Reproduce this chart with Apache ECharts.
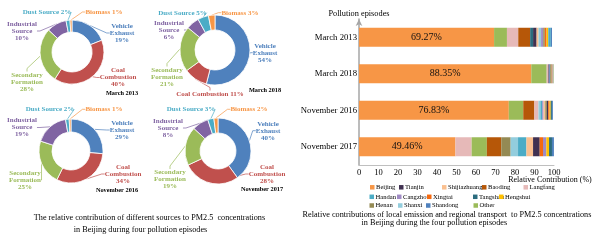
<!DOCTYPE html>
<html><head><meta charset="utf-8">
<script src="https://cdn.jsdelivr.net/npm/echarts@6/dist/echarts.min.js"></script>
<style>html,body{margin:0;padding:0;background:#fff}#c{width:600px;height:241px}</style>
</head><body><div id="c"></div>
<script>
// ---------- Data: source apportionment (donuts) ----------
const sources = ['Vehicle Exhaust', 'Coal Combustion', 'Secondary Formation', 'Industrial Source', 'Dust Source', 'Biomass'];
const donutEpisodes = ['March 2013', 'March 2018', 'November 2016', 'November 2017'];
const mar2013Sources = [19, 40, 28, 10, 2, 1];
const mar2018Sources = [54, 11, 21, 6, 5, 3];
const nov2016Sources = [29, 34, 25, 19, 2, 1];
const nov2017Sources = [40, 28, 19, 8, 3, 2];

// ---------- Data: regional contributions (stacked bars) ----------
const episodes = ['March 2013', 'March 2018', 'November 2016', 'November 2017'];
const regions = ['Beijing', 'Tianjin', 'Shijiazhuang', 'Baoding', 'Langfang', 'Handan', 'Cangzhou', 'Xingtai', 'Tangshan', 'Hengshui', 'Henan', 'Shanxi', 'Shandong', 'Other'];
//                  Bj     Tj   Sjz  Bd   Lf   Hd   Cz   Xt   Ts   Hs   Hn   Sx   Sd   Other
const mar2013Regions = [69.27, 1.8, 1.0, 6.1, 5.8, 1.3, 1.1, 0.9, 1.5, 0.9, 0.8, 1.3, 0.6, 6.6];
const mar2018Regions = [88.35, 0.5, 0.15, 0.15, 0.9, 0.15, 0.15, 0.15, 0.15, 0.15, 0.7, 0.15, 0.4, 7.9];
const nov2016Regions = [76.83, 0.7, 0.9, 5.7, 2.1, 0.9, 0.7, 0.7, 0.6, 0.6, 0.8, 1.0, 0.5, 7.4];
const nov2017Regions = [49.46, 3.4, 3.4, 7.4, 8.3, 4.3, 1.7, 1.7, 1.5, 1.4, 4.8, 3.8, 1.0, 7.8];
// stacking order of each bar (as drawn in the figure)
const mar2013Order = ['Beijing', 'Other', 'Langfang', 'Baoding', 'Tangshan', 'Tianjin', 'Shijiazhuang', 'Shanxi', 'Cangzhou', 'Henan', 'Xingtai', 'Hengshui', 'Handan', 'Shandong'];
const mar2018Order = ['Beijing', 'Other', 'Langfang', 'Tianjin', 'Shandong', 'Henan', 'Baoding', 'Shijiazhuang', 'Handan', 'Cangzhou', 'Xingtai', 'Tangshan', 'Hengshui', 'Shanxi'];
const nov2016Order = ['Beijing', 'Other', 'Baoding', 'Langfang', 'Shanxi', 'Handan', 'Cangzhou', 'Shijiazhuang', 'Henan', 'Tianjin', 'Xingtai', 'Hengshui', 'Tangshan', 'Shandong'];
const nov2017Order = ['Beijing', 'Langfang', 'Other', 'Baoding', 'Henan', 'Shanxi', 'Handan', 'Shijiazhuang', 'Tianjin', 'Xingtai', 'Cangzhou', 'Hengshui', 'Tangshan', 'Shandong'];
const xTicks = [0, 10, 20, 30, 40, 50, 60, 70, 80, 90, 100];

// ---------- Styles / layout ----------
const FONT = 'Liberation Serif';
const sourceColors = ['#4F81BD', '#C0504D', '#9BBB59', '#8064A2', '#4BACC6', '#F79646'];
const regionColors = {
  Beijing: '#F79646', Tianjin: '#403151', Shijiazhuang: '#FAC090', Baoding: '#B65708', Langfang: '#E6B9B8',
  Handan: '#4BACC6', Cangzhou: '#A08BC4', Xingtai: '#F5690F', Tangshan: '#2B6C7E', Hengshui: '#FFC000',
  Henan: '#948A54', Shanxi: '#93CDDD', Shandong: '#4F81BD', Other: '#9BBB59'
};
const donutValues = [mar2013Sources, mar2018Sources, nov2016Sources, nov2017Sources];
const donutGeom = [
  { center: [72, 52], radius: [20, 32], title: [122, 93] },
  { center: [215, 50], radius: [20, 35], title: [265, 90] },
  { center: [71, 151], radius: [19, 32], title: [117, 190] },
  { center: [218, 151], radius: [18, 33], title: [262, 189.5] }
];
// label centres: Vehicle, Coal, Secondary, Industrial, Dust, Biomass
const donutLabelPos = [
  [[122, 33], [118, 77.5], [27, 82], [22, 31], [47, 12], [104, 12]],
  [[265, 52.7], [210, 94], [167, 77], [169, 30], [182.5, 12.7], [240, 12.7]],
  [[122, 130], [123, 174], [25, 180], [22, 127.5], [50, 109.3], [104, 109.3]],
  [[268, 130.7], [267, 174], [170, 179.5], [168, 128], [191, 109.3], [249, 109.3]]
];
const inlineLabels = [[4, 5], [1, 4, 5], [4, 5], [4, 5]];
const legendPos = {
  Beijing: [370, 187.3], Tianjin: [399, 187.3], Shijiazhuang: [442, 187.3], Baoding: [482, 187.3], Langfang: [523.5, 187.3],
  Handan: [369.5, 196.8], Cangzhou: [397, 196.8], Xingtai: [427, 196.8], Tangshan: [473, 196.8], Hengshui: [499, 196.8],
  Henan: [369.5, 205.5], Shanxi: [398, 205.5], Shandong: [426, 205.5], Other: [473.5, 205.5]
};

const series = [];
donutValues.forEach((vals, d) => {
  const g = donutGeom[d];
  series.push({
    type: 'pie', center: g.center, radius: g.radius, startAngle: 90, clockwise: true,
    silent: true, animation: false, avoidLabelOverlap: false,
    itemStyle: { borderColor: '#fff', borderWidth: 0.8 },
    data: sources.map((s, i) => ({ name: s, value: vals[i], itemStyle: { color: sourceColors[i] },
      label: { color: sourceColors[i] } })),
    label: {
      show: true, position: 'outside', fontFamily: FONT, fontWeight: 'bold', fontSize: 7, lineHeight: 7,
      align: 'center',
      formatter: p => inlineLabels[d].includes(p.dataIndex) ? `${p.name} ${p.value}%` : `${p.name.split(' ').join('\n')}\n${p.value}%`
    },
    labelLine: { show: true, length: 4, length2: 3, lineStyle: { width: 0.7 } },
    labelLayout: p => {
      const pos = donutLabelPos[d][p.dataIndex];
      return { x: pos[0], y: pos[1], align: 'center', verticalAlign: 'middle' };
    }
  });
});

// category axis drawn bottom-to-top, so list the episodes in reverse
const yCategories = episodes.slice().reverse();
const regionValues = [mar2013Regions, mar2018Regions, nov2016Regions, nov2017Regions];
const stackOrders = [mar2013Order, mar2018Order, nov2016Order, nov2017Order];
stackOrders.forEach((order, e) => {
  order.forEach(r => {
    const v = regionValues[e][regions.indexOf(r)];
    series.push({
      name: r, type: 'bar', stack: 'total', barWidth: 19, animation: false, silent: true,
      xAxisIndex: 0, yAxisIndex: 0,
      itemStyle: { color: regionColors[r] },
      data: yCategories.map(c => (c === episodes[e] ? v : '-')),
      label: r === 'Beijing' ? { show: true, position: 'inside', fontFamily: FONT, fontSize: 10, color: '#111',
        formatter: p => p.value.toFixed(2) + '%' } : { show: false }
    });
  });
});

const legends = regions.map(r => ({
  data: [r], left: legendPos[r][0], top: legendPos[r][1] - 4.5, padding: 0, itemGap: 0,
  itemWidth: 4.5, itemHeight: 4.5, icon: 'rect', selectedMode: false,
  textStyle: { fontFamily: FONT, fontSize: 6.6, color: '#000', lineHeight: 9, padding: [0, 0, 0, -3.5] }
}));

const txt = (x, y, text, size, bold) => ({
  type: 'text', x, y, silent: true,
  style: { text, fontFamily: FONT, fontSize: size, fontWeight: bold ? 'bold' : 'normal', fill: '#000',
    textAlign: 'center', textVerticalAlign: 'middle' }
});
const graphics = donutGeom.map((g, d) => txt(g.title[0], g.title[1], donutEpisodes[d], 6.3, true));
graphics.push(txt(149.5, 218.3, 'The relative contribution of different sources to PM2.5  concentrations', 8.2, false));
graphics.push(txt(140.5, 230, 'in Beijing during four pollution episodes', 8.2, false));
graphics.push(txt(447, 215, 'Relative contributions of local emission and regional transport  to PM2.5 concentrations', 8.2, false));
graphics.push(txt(434.3, 223.3, 'in Beijing during the four pollution episodes', 8.2, false));
graphics.push(txt(550, 180, 'Relative Contribution (%)', 8, false));

const chart = echarts.init(document.getElementById('c'), null, { renderer: 'canvas' });
chart.setOption({
  animation: false,
  backgroundColor: '#fff',
  grid: { left: 359, top: 19, width: 195, height: 146, containLabel: false, outerBoundsMode: 'none' },
  xAxis: {
    type: 'value', min: xTicks[0], max: xTicks[xTicks.length - 1], interval: xTicks[1] - xTicks[0],
    axisLine: { show: true, lineStyle: { color: '#BFBFBF', width: 1 } },
    axisTick: { show: false }, splitLine: { show: false },
    axisLabel: { fontFamily: FONT, fontSize: 8.5, color: '#000', margin: 3 }
  },
  yAxis: {
    type: 'category', data: yCategories,
    axisLine: { show: true, lineStyle: { color: '#A6A6A6', width: 1.5 }, symbol: ['none', 'arrow'], symbolSize: [5, 7] },
    axisTick: { show: false },
    axisLabel: { fontFamily: FONT, fontSize: 8.7, color: '#000', margin: 2 },
    name: 'Pollution episodes', nameLocation: 'end', nameGap: 5,
    nameTextStyle: { fontFamily: FONT, fontSize: 8.3, color: '#000', align: 'center', verticalAlign: 'middle' }
  },
  legend: legends,
  graphic: graphics,
  series
});
</script>
</body></html>
